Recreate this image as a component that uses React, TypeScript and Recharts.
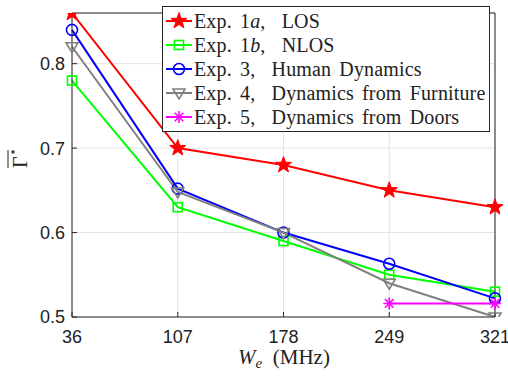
import { LineChart, Line, XAxis, YAxis, CartesianGrid } from "recharts";

// bandwidth values on the x axis (MHz)
const W_LABELS = ["36", "107", "178", "249", "321"];

// mean Gamma* per experiment
const EXP_1A = [0.86, 0.7, 0.68, 0.65, 0.63];
const EXP_1B = [0.78, 0.63, 0.59, 0.55, 0.53];
const EXP_3 = [0.84, 0.652, 0.6, 0.563, 0.522];
const EXP_4 = [0.82, 0.648, 0.6, 0.54, 0.5];
const EXP_5 = [null, null, null, 0.516, 0.516];

const Y_TICKS = [0.5, 0.6, 0.7, 0.8];

const AXIS = "#262626";
const SERIF = "'Liberation Serif', 'DejaVu Serif', serif";
const SANS = "'Liberation Sans', Arial, sans-serif";

type Marker = "star" | "square" | "circle" | "triangle" | "asterisk";

const SERIES: { key: string; color: string; marker: Marker; num: string; sub?: string; text: string }[] = [
    { key: "e1a", color: "#ff0000", marker: "star", num: "1", sub: "a", text: "LOS" },
    { key: "e1b", color: "#00ff00", marker: "square", num: "1", sub: "b", text: "NLOS" },
    { key: "e3", color: "#0000ff", marker: "circle", num: "3", text: "Human Dynamics" },
    { key: "e4", color: "#808080", marker: "triangle", num: "4", text: "Dynamics from Furniture" },
    { key: "e5", color: "#ff00ff", marker: "asterisk", num: "5", text: "Dynamics from Doors" },
];

const data = W_LABELS.map((w, i) => ({
    w,
    e1a: EXP_1A[i],
    e1b: EXP_1B[i],
    e3: EXP_3[i],
    e4: EXP_4[i],
    e5: EXP_5[i],
}));

function markerShape(kind: Marker, cx: number, cy: number, color: string) {
    switch (kind) {
        case "star": {
            const pts: string[] = [];
            for (let k = 0; k < 10; k++) {
                const r = k % 2 === 0 ? 8.5 : 3.4;
                const a = -Math.PI / 2 + (k * Math.PI) / 5;
                pts.push(`${cx + r * Math.cos(a)},${cy + r * Math.sin(a)}`);
            }
            return <polygon points={pts.join(" ")} fill={color} stroke={color} strokeWidth={1} />;
        }
        case "square":
            return <rect x={cx - 4.5} y={cy - 4.5} width={9} height={9} fill="none" stroke={color} strokeWidth={1.6} />;
        case "circle":
            return <circle cx={cx} cy={cy} r={5.5} fill="none" stroke={color} strokeWidth={1.6} />;
        case "triangle":
            return (
                <polygon
                    points={`${cx - 6},${cy - 4} ${cx + 6},${cy - 4} ${cx},${cy + 6}`}
                    fill="none"
                    stroke={color}
                    strokeWidth={1.6}
                />
            );
        case "asterisk":
            return (
                <g stroke={color} strokeWidth={1.6}>
                    <line x1={cx - 6} y1={cy} x2={cx + 6} y2={cy} />
                    <line x1={cx} y1={cy - 6} x2={cx} y2={cy + 6} />
                    <line x1={cx - 4.3} y1={cy - 4.3} x2={cx + 4.3} y2={cy + 4.3} />
                    <line x1={cx - 4.3} y1={cy + 4.3} x2={cx + 4.3} y2={cy - 4.3} />
                </g>
            );
    }
}

function makeDot(kind: Marker, color: string) {
    return (props: any) => {
        const { cx, cy, index, value } = props;
        if (cx == null || cy == null || value == null) return <g key={`d-${index}`} />;
        return <g key={`d-${index}`}>{markerShape(kind, cx, cy, color)}</g>;
    };
}

function YLabel() {
    return (
        <g transform="translate(27,168) rotate(-90)">
            <line x1={0} y1={-19} x2={18} y2={-19} stroke="#222" strokeWidth={1} />
            <text x={0} y={0} fontFamily={SERIF} fontSize={20} fill="#222">
                Γ
            </text>
            <text x={12} y={-10} fontFamily={SERIF} fontSize={13} fill="#222">
                ⋆
            </text>
        </g>
    );
}

function XLabel() {
    return (
        <text x={284} y={364} textAnchor="middle" fontFamily={SERIF} fontSize={21} fill="#222">
            <tspan fontStyle="italic">W</tspan>
            <tspan fontStyle="italic" fontSize={15} dy={4}>e</tspan>
            <tspan dy={-4}>{"\u00a0\u00a0(MHz)"}</tspan>
        </text>
    );
}

function LegendBox() {
    return (
        <div
            style={{
                position: "absolute",
                left: 162,
                top: 6,
                width: 326,
                height: 122,
                border: `1px solid ${AXIS}`,
                background: "#fff",
                paddingTop: 2,
                boxSizing: "content-box",
                fontFamily: SERIF,
                fontSize: 20,
                color: "#222",
            }}
        >
            {SERIES.map((s) => (
                <div key={s.key} style={{ display: "flex", alignItems: "center", height: 24, whiteSpace: "pre" }}>
                    <svg width={31} height={24} style={{ flex: "none" }}>
                        <line x1={3} y1={12} x2={29} y2={12} stroke={s.color} strokeWidth={2} />
                        {markerShape(s.marker, 16, 12, s.color)}
                    </svg>
                    <span style={{ wordSpacing: 3, letterSpacing: 0.15 }}>
                        {"Exp. " + s.num}
                        {s.sub && <i>{s.sub}</i>}
                        {",  " + s.text}
                    </span>
                </div>
            ))}
        </div>
    );
}

export default function App() {
    return (
        <div style={{ position: "absolute", left: 0, top: 0, width: 508, height: 377, background: "#fff" }}>
            <LineChart width={508} height={377} data={data} margin={{ top: 0, right: 0, bottom: 0, left: 0 }}>
                <CartesianGrid stroke="#e3e3e3" strokeWidth={1} />
                <XAxis
                    dataKey="w"
                    scale="point"
                    padding={{ left: 0, right: 0 }}
                    height={60}
                    stroke={AXIS}
                    tickSize={-5}
                    tickMargin={18}
                    tick={{ fill: "#222", fontSize: 18, fontFamily: SANS }}
                    interval={0}
                    label={<XLabel />}
                />
                <XAxis
                    xAxisId="top"
                    dataKey="w"
                    orientation="top"
                    scale="point"
                    padding={{ left: 0, right: 0 }}
                    height={13}
                    stroke={AXIS}
                    tickSize={-5}
                    tick={false}
                    interval={0}
                />
                <YAxis
                    domain={[0.5, 0.86]}
                    ticks={Y_TICKS}
                    allowDataOverflow
                    width={72}
                    stroke={AXIS}
                    tickSize={-5}
                    tickMargin={12}
                    tickFormatter={(v: number) => v.toFixed(1)}
                    tick={{ fill: "#222", fontSize: 18, fontFamily: SANS }}
                    label={<YLabel />}
                />
                <YAxis
                    yAxisId="right"
                    orientation="right"
                    domain={[0.5, 0.86]}
                    ticks={Y_TICKS}
                    allowDataOverflow
                    width={13}
                    stroke={AXIS}
                    tickSize={-5}
                    tick={false}
                />
                {SERIES.map((s) => (
                    <Line
                        key={s.key}
                        dataKey={s.key}
                        stroke={s.color}
                        strokeWidth={2}
                        dot={makeDot(s.marker, s.color)}
                        activeDot={false}
                        connectNulls={false}
                        isAnimationActive={false}
                    />
                ))}
            </LineChart>
            <LegendBox />
        </div>
    );
}
